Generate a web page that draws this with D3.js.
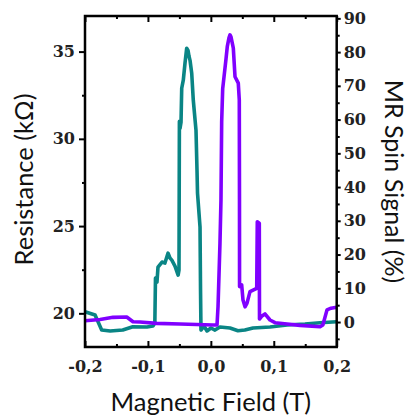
<!DOCTYPE html>
<html>
<head>
<meta charset="utf-8">
<script src="https://cdn.jsdelivr.net/npm/d3@7"></script>
<style>
  html, body { margin: 0; padding: 0; background: #fff; }
  svg { display: block; }
</style>
</head>
<body>
<svg id="chart" width="410" height="418"></svg>
<script>
// ---- data ----
const resistanceField = [-0.2, -0.184, -0.1735, -0.16, -0.14, -0.124, -0.1015, -0.092, -0.089, -0.088, -0.0856, -0.084, -0.0776, -0.073, -0.068, -0.065, -0.062, -0.057, -0.052, -0.0506, -0.050, -0.049, -0.0474, -0.0463, -0.0438, -0.0411, -0.0384, -0.0363, -0.0347, -0.0331, -0.0304, -0.0279, -0.0236, -0.022, -0.0212, -0.0172, -0.0164, -0.0157, -0.0109, -0.0061, 0.0002, 0.0066, 0.0145, 0.0304, 0.0431, 0.054, 0.067, 0.094, 0.121, 0.1496, 0.1736, 0.2];
const resistanceKOhm = [20.09, 19.90, 19.04, 18.99, 19.04, 19.23, 19.22, 19.27, 19.44, 22.02, 21.79, 22.65, 22.94, 22.88, 23.45, 23.17, 23.05, 22.71, 22.19, 22.48, 31.0, 30.6, 30.95, 32.9, 33.36, 34.33, 35.19, 35.07, 34.73, 34.5, 33.76, 32.21, 30.49, 28.2, 26.89, 24.94, 21.34, 19.04, 19.27, 18.99, 19.16, 19.04, 19.22, 19.16, 19.0, 19.04, 19.16, 19.22, 19.33, 19.39, 19.46, 19.52];

const mrField = [-0.2, -0.176, -0.1555, -0.1337, -0.1237, -0.1126, -0.086, -0.049, 0.0034, 0.0098, 0.0114, 0.0145, 0.0161, 0.0172, 0.0188, 0.0241, 0.0261, 0.0288, 0.0304, 0.032, 0.0357, 0.0384, 0.0436, 0.0452, 0.0455, 0.0456, 0.049, 0.0511, 0.0543, 0.0575, 0.0622, 0.0729, 0.0738, 0.077, 0.0773, 0.0813, 0.086, 0.094, 0.102, 0.121, 0.1417, 0.1736, 0.178, 0.1846, 0.191, 0.2];
const mrSignal = [0.39, 0.74, 1.39, 1.48, 0.09, 0, -0.39, -0.59, -0.89, -0.89, 4.53, 23.4, 36.2, 59.3, 69.1, 78.0, 81.6, 84.2, 85.1, 84.5, 81.2, 72.7, 70.8, 65.8, 36.2, 10.5, 11.0, 6.5, 4.5, 5.6, 9.0, 10.0, 29.7, 29.3, 0.9, 1.8, 2.4, 0.6, -0.2, -0.6, -1.0, -1.4, -0.9, 3.6, 4.1, 4.4];

const xMajorTicks = [-0.2, -0.1, 0.0, 0.1, 0.2];
const xMinorTicks = [-0.15, -0.05, 0.05, 0.15];
const leftMajorTicks = [20, 25, 30, 35];
const leftMinorTicks = [22.5, 27.5, 32.5];
const rightMajorTicks = [0, 10, 20, 30, 40, 50, 60, 70, 80, 90];
const rightMinorTicks = [-5, 5, 15, 25, 35, 45, 55, 65, 75, 85];

const xTitle = "Magnetic Field (T)";
const leftTitle = "Resistance (k\u03A9)";
const rightTitle = "MR Spin Signal (%)";

// ---- layout ----
const L = 85, R = 336.7, T = 16, B = 347;
const svg = d3.select("#chart");

const x = d3.scaleLinear().domain([-0.2, 0.2]).range([L, R]);
const yL = d3.scaleLinear().domain([18.07, 37.04]).range([B, T]);
const yR = d3.scaleLinear().domain([-7.4, 90.7]).range([B, T]);

const tickFont = "'DejaVu Serif', serif";
const titleFont = "Lato, 'Open Sans', sans-serif";
const fmtX = v => d3.format(".1f")(v).replace("\u2212", "-").replace(".", ",");

function styleAxis(g) {
  g.select(".domain").remove();
  g.selectAll(".tick line").attr("stroke", "#000").attr("stroke-width", 2);
  g.selectAll("text").attr("font-family", tickFont).attr("font-weight", "bold")
    .attr("font-size", 16).attr("fill", "#222");
}

// curves
const lineL = d3.line().x((d, i) => x(resistanceField[i])).y(d => yL(d));
const lineR = d3.line().x((d, i) => x(mrField[i])).y(d => yR(d));

svg.append("path").datum(resistanceKOhm).attr("d", lineL)
  .attr("fill", "none").attr("stroke", "#0a8585").attr("stroke-width", 3.6)
  .attr("stroke-linejoin", "round");
svg.append("path").datum(mrSignal).attr("d", lineR)
  .attr("fill", "none").attr("stroke", "#8000ff").attr("stroke-width", 3.6)
  .attr("stroke-linejoin", "round");

// bottom axis (ticks inward)
svg.append("g").attr("transform", `translate(0,${B})`)
  .call(d3.axisBottom(x).tickValues(xMajorTicks).tickFormat(fmtX).tickSize(-6).tickPadding(14))
  .call(styleAxis);
svg.append("g").attr("transform", `translate(0,${B})`)
  .call(d3.axisBottom(x).tickValues(xMinorTicks).tickFormat("").tickSize(-3))
  .call(styleAxis);
// top axis (ticks inward)
svg.append("g").attr("transform", `translate(0,${T})`)
  .call(d3.axisTop(x).tickValues(xMajorTicks).tickFormat("").tickSize(-6))
  .call(styleAxis);
svg.append("g").attr("transform", `translate(0,${T})`)
  .call(d3.axisTop(x).tickValues(xMinorTicks).tickFormat("").tickSize(-3))
  .call(styleAxis);
// left axis (ticks outward)
svg.append("g").attr("transform", `translate(${L},0)`)
  .call(d3.axisLeft(yL).tickValues(leftMajorTicks).tickFormat(d3.format("d")).tickSize(6).tickPadding(4))
  .call(styleAxis);
svg.append("g").attr("transform", `translate(${L},0)`)
  .call(d3.axisLeft(yL).tickValues(leftMinorTicks).tickFormat("").tickSize(3))
  .call(styleAxis);
// right axis (ticks outward)
svg.append("g").attr("transform", `translate(${R},0)`)
  .call(d3.axisRight(yR).tickValues(rightMajorTicks).tickFormat(d3.format("d")).tickSize(4).tickPadding(3))
  .call(styleAxis);
svg.append("g").attr("transform", `translate(${R},0)`)
  .call(d3.axisRight(yR).tickValues(rightMinorTicks).tickFormat("").tickSize(3))
  .call(styleAxis);

// frame
svg.append("rect").attr("x", L).attr("y", T).attr("width", R - L).attr("height", B - T)
  .attr("fill", "none").attr("stroke", "#000").attr("stroke-width", 2.5);

// titles
svg.append("text").attr("x", (L + R) / 2).attr("y", 411).attr("text-anchor", "middle")
  .attr("font-family", titleFont).attr("font-size", 25.5).attr("fill", "#111").text(xTitle);
svg.append("text").attr("transform", `translate(33,${(T + B) / 2 - 2}) rotate(-90)`)
  .attr("text-anchor", "middle")
  .attr("font-family", titleFont).attr("font-size", 25.5).attr("fill", "#111").text(leftTitle);
svg.append("text").attr("transform", `translate(385,${(T + B) / 2}) rotate(90)`)
  .attr("text-anchor", "middle")
  .attr("font-family", titleFont).attr("font-size", 25).attr("fill", "#111").text(rightTitle);
</script>
</body>
</html>
